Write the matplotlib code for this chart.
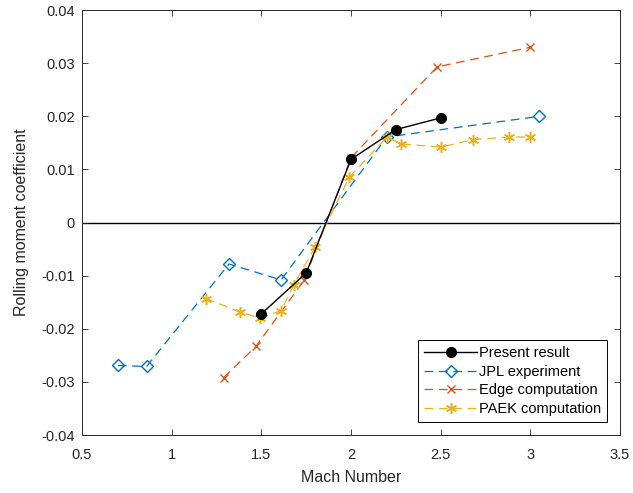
import matplotlib.pyplot as plt

plt.rcParams["font.family"] = ["Liberation Sans", "DejaVu Sans"]

# Present result
mach_present = [1.5, 1.75, 2.0, 2.25, 2.5]
cl_present = [-0.0172, -0.0095, 0.0119, 0.0175, 0.0197]

# JPL experiment
mach_jpl = [0.70, 0.86, 1.32, 1.61, 2.20, 3.05]
cl_jpl = [-0.0269, -0.0271, -0.0078, -0.0108, 0.0161, 0.0200]

# Edge computation
mach_edge = [1.29, 1.47, 1.74, 2.0, 2.48, 3.0]
cl_edge = [-0.0292, -0.0233, -0.0108, 0.0122, 0.0293, 0.0330]

# PAEK computation
mach_paek = [1.19, 1.38, 1.49, 1.61, 1.68, 1.80, 1.99, 2.20, 2.28, 2.50, 2.68, 2.88, 3.0]
cl_paek = [-0.0143, -0.0168, -0.0180, -0.0166, -0.0118, -0.0046, 0.0085,
           0.0161, 0.0148, 0.0142, 0.0156, 0.0161, 0.0161]

blue = (0.0, 0.447, 0.741)
red = (0.85, 0.325, 0.098)
yellow = (0.929, 0.694, 0.125)

fig = plt.figure(figsize=(6.33, 4.93), dpi=100)
ax = fig.add_axes([0.1295, 0.1176, 0.85, 0.862])

ax.axhline(0, color="black", linewidth=1.0, zorder=1)

dash = (0, (7, 4.5))
ax.plot(mach_present, cl_present, color="black", linestyle="-", linewidth=1.0,
        marker="o", markersize=7, markerfacecolor="black", label="Present result", zorder=5)
ax.plot(mach_jpl, cl_jpl, color=blue, linestyle=dash, linewidth=0.9,
        marker="D", markersize=6.5, markerfacecolor="none", markeredgewidth=1.0,
        label="JPL experiment", zorder=3)
ax.plot(mach_edge, cl_edge, color=red, linestyle=dash, linewidth=0.9,
        marker="x", markersize=6, markeredgewidth=1.0, label="Edge computation", zorder=3)
ax.plot(mach_paek, cl_paek, color=yellow, linestyle=dash, linewidth=0.9,
        marker=(6, 2, 0), markersize=8, markeredgewidth=1.1, label="PAEK computation", zorder=4)

ax.set_xlim(0.5, 3.5)
ax.set_ylim(-0.04, 0.04)
ax.set_xticks([0.5, 1, 1.5, 2, 2.5, 3, 3.5])
ax.set_xticklabels(["0.5", "1", "1.5", "2", "2.5", "3", "3.5"])
ax.set_yticks([-0.04, -0.03, -0.02, -0.01, 0, 0.01, 0.02, 0.03, 0.04])
ax.set_yticklabels(["-0.04", "-0.03", "-0.02", "-0.01", "0", "0.01", "0.02", "0.03", "0.04"])
ax.tick_params(axis="both", direction="in", top=True, right=True, length=4,
               width=0.6, labelsize=10.5, colors="#262626")
ax.tick_params(axis="x", pad=9)
ax.tick_params(axis="y", pad=5)
for spine in ax.spines.values():
    spine.set_linewidth(0.7)
    spine.set_color("#262626")

ax.set_xlabel("Mach Number", fontsize=11.5, color="#262626", labelpad=6)
ax.set_ylabel("Rolling moment coefficient", fontsize=11.5, color="#262626", labelpad=9)

leg = ax.legend(loc="lower right", fontsize=10.5, frameon=True, fancybox=False,
                edgecolor="black", framealpha=1, borderpad=0.4, labelspacing=0.32,
                handlelength=3.6, handletextpad=0.15, borderaxespad=0.9)
leg.get_frame().set_linewidth(0.7)

fig.savefig("out.png", dpi=100)
